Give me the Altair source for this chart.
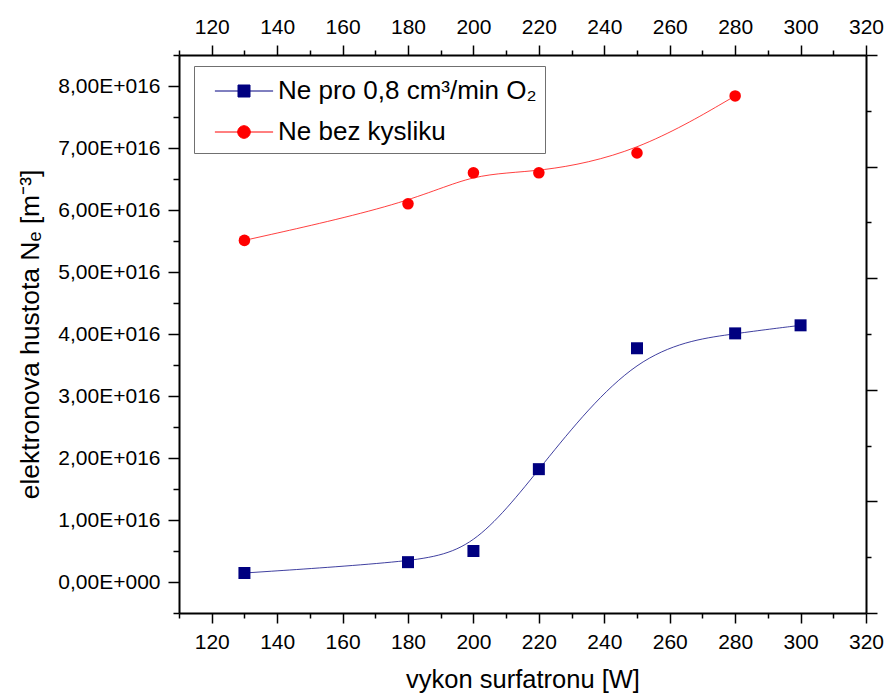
import altair as alt
import pandas as pd

# ---- data ----
series_names = ["Ne pro 0,8 cm³/min O₂", "Ne bez kysliku"]
series_keys = ["o2", "bez"]

power_o2 = [130, 180, 200, 220, 250, 280, 300]
ne_o2 = [0.145e16, 0.32e16, 0.50e16, 1.82e16, 3.77e16, 4.01e16, 4.14e16]

power_bez = [130, 180, 200, 220, 250, 280]
ne_bez = [5.51e16, 6.10e16, 6.60e16, 6.60e16, 6.92e16, 7.84e16]

x_tick_values = list(range(110, 330, 10))          # major every 20, minor every 10
y_tick_values = [k * 0.5e16 for k in range(-1, 18)]  # major every 1e16, minor every 0.5e16
right_tick_values = list(range(0, 11))               # right axis: 5 major, minor between

colors = ["#000080", "#ff0000"]

df = pd.DataFrame({
    "power": power_o2 + power_bez,
    "ne": ne_o2 + ne_bez,
    "key": [series_keys[0]] * len(power_o2) + [series_keys[1]] * len(power_bez),
    "series": [series_names[0]] * len(power_o2) + [series_names[1]] * len(power_bez),
})

FONT = "Liberation Sans"
xscale = alt.Scale(domain=[110, 320], nice=False, zero=False)
yscale = alt.Scale(domain=[-0.5e16, 8.5e16], nice=False, zero=False)

major_x = "datum.value % 20 == 0"
major_y = "datum.value % 1e16 == 0"

common = dict(
    domainColor="black", domainWidth=2, tickColor="black", tickWidth=1.5,
    labelFont=FONT, labelFontSize=21, labelColor="black", labelOverlap=False,
    labelFlush=False, grid=False, titleFont=FONT, titleFontSize=25.5,
    titleColor="black", titleFontWeight="normal",
)

x_axis_bottom = alt.Axis(
    orient="bottom", values=x_tick_values,
    labelExpr=f"({major_x}) ? format(datum.value, 'd') : ''",
    tickSize={"condition": {"test": major_x, "value": 10}, "value": 5},
    labelPadding=8, title="vykon surfatronu [W]", titlePadding=15, **common)

x_axis_top = alt.Axis(
    orient="top", values=x_tick_values,
    labelExpr=f"({major_x}) ? format(datum.value, 'd') : ''",
    tickSize={"condition": {"test": major_x, "value": 10}, "value": 5},
    labelPadding=8, title=None, **common)

y_axis_left = alt.Axis(
    orient="left", values=y_tick_values,
    labelExpr=("datum.value == 0 ? '0,00E+000' : ((" + major_y + ") ? "
               "replace(format(datum.value / 1e16, '.2f'), '.', ',') + 'E+016' : '')"),
    tickSize={"condition": {"test": major_y, "value": 11}, "value": 6},
    labelPadding=8, title="elektronova hustota Nₑ [m⁻³]", titlePadding=13,
    **{**common, "titleFontSize": 26.5})

y_axis_right = alt.Axis(
    orient="right", values=right_tick_values, labels=False,
    tickSize={"condition": {"test": "datum.value % 2 == 0", "value": 11}, "value": 5},
    title=None, **common)

X = alt.X("power:Q", scale=xscale, axis=x_axis_bottom)
Y = alt.Y("ne:Q", scale=yscale, axis=y_axis_left)

base = alt.Chart(df)

def line_layer(i):
    return base.transform_filter(alt.datum.key == series_keys[i]).mark_line(
        interpolate="basis", color=colors[i], strokeWidth=1, opacity=0.75
    ).encode(x=X, y=Y)

def point_layer(i, shape, size):
    return base.transform_filter(alt.datum.key == series_keys[i]).mark_point(
        shape=shape, filled=True, size=size, color=colors[i], opacity=1
    ).encode(x=X, y=Y)

# legend symbols: a short line with the marker in the middle
sym_square = "M-4.85,0H4.85M-1,-1H1V1H-1Z"
sym_circle = "M-4.85,0H4.85M-1.05,0A1.05,1.05,0,1,0,1.05,0A1.05,1.05,0,1,0,-1.05,0Z"

legend = alt.Legend(
    title=" ", titleFontSize=2, titlePadding=2,
    orient="none", legendX=15, legendY=11, padding=8,
    strokeColor="#707070", fillColor="white",
    labelFont=FONT, labelFontSize=26, labelColor="black", labelLimit=400,
    symbolSize=144, symbolStrokeWidth=1, symbolOffset=29, labelOffset=21,
    rowPadding=15, symbolOpacity=1,
)

legend_layer = base.transform_filter("false").mark_point(
    filled=True, opacity=1, strokeWidth=1
).encode(
    color=alt.Color("series:N", scale=alt.Scale(domain=series_names, range=colors), legend=legend),
    stroke=alt.Stroke("series:N", scale=alt.Scale(domain=series_names, range=colors), legend=legend),
    shape=alt.Shape("series:N", scale=alt.Scale(domain=series_names, range=[sym_square, sym_circle]), legend=legend),
)

inner = alt.layer(
    line_layer(0), line_layer(1),
    point_layer(0, "square", 144), point_layer(1, "circle", 133),
    legend_layer,
)

frame_axes = base.mark_point(opacity=0).encode(
    x=alt.X("power:Q", scale=xscale, axis=x_axis_top),
    y=alt.Y("r:Q", scale=alt.Scale(domain=[0, 10], nice=False, zero=False), axis=y_axis_right),
).transform_calculate(r="0")

chart = alt.layer(inner, frame_axes).resolve_scale(
    y="independent"
).resolve_axis(
    x="independent", y="independent"
).properties(
    width=687, height=558,
    autosize=alt.AutoSizeParams(type="none"),
    padding={"left": 179, "top": 55, "right": 18, "bottom": 80},
    background="white",
).configure_view(stroke=None)

chart.save("out.html", embed_options={"renderer": "svg", "actions": False})
